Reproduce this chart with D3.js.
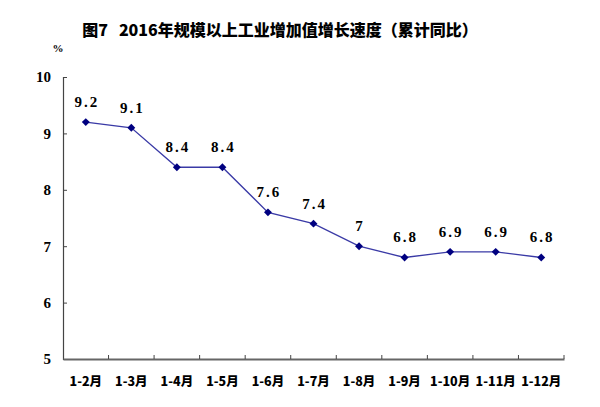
<!DOCTYPE html>
<html>
<head>
<meta charset="utf-8">
<script src="https://cdn.jsdelivr.net/npm/d3@7/dist/d3.min.js"></script>
<style>
  body { margin: 0; background: #fff; }
  text { font-family: "Liberation Serif", "Noto Sans CJK SC", serif; font-weight: bold; fill: #000; }
</style>
</head>
<body>
<svg class="chart" width="600" height="407"></svg>
<script>
// 数据
const months = ['1-2月', '1-3月', '1-4月', '1-5月', '1-6月', '1-7月', '1-8月', '1-9月', '1-10月', '1-11月', '1-12月']
const growth = [9.2, 9.1, 8.4, 8.4, 7.6, 7.4, 7, 6.8, 6.9, 6.9, 6.8]
const yTicks = [5, 6, 7, 8, 9, 10]
const title = '图7\u00a0\u00a0 2016年规模以上工业增加值增长速度（累计同比）'

let svg = d3.select('.chart')
let marge = { top: 77, bottom: 48, left: 63, right: 36 }
let width = +svg.attr('width')
let height = +svg.attr('height')

// 标题
svg.append('text')
  .attr('x', 280)
  .attr('y', 36)
  .attr('text-anchor', 'middle')
  .style('font-family', '"Noto Sans CJK SC", serif')
  .style('font-size', '16px')
  .style('font-weight', '900')
  .text(title)

let xScale = d3.scaleBand()
  .domain(months)
  .range([marge.left, width - marge.right])

let yScale = d3.scaleLinear()
  .domain([5, 10])
  .range([height - marge.bottom, marge.top])

// y轴
let yAxis = d3.axisLeft(yScale).tickValues(yTicks).tickFormat(d3.format('d')).tickSize(-4).tickPadding(12)
let gy = svg.append('g')
  .attr('transform', `translate(${marge.left},0)`)
  .call(yAxis)
gy.select('.domain').attr('stroke', '#444').attr('stroke-width', 1.2)
gy.selectAll('.tick line').attr('stroke', '#444')
gy.selectAll('.tick text').style('font-size', '15px').style('font-family', '"Liberation Serif", serif')

// x轴, 刻度在分段边界
let xAxis = d3.axisBottom(xScale).tickSize(0).tickPadding(18)
let gx = svg.append('g')
  .attr('transform', `translate(0,${height - marge.bottom})`)
  .call(xAxis)
gx.select('.domain').attr('stroke', '#666').attr('stroke-width', 2)
gx.selectAll('.tick text').style('font-size', '12.5px').style('font-family', '"Noto Sans CJK SC", serif').style('font-weight', '900')
gx.selectAll('.bound')
  .data(months.slice(1).concat(['end']))
  .enter()
  .append('line')
  .attr('class', 'bound')
  .attr('x1', (d, i) => xScale(months[0]) + (i + 1) * xScale.step())
  .attr('x2', (d, i) => xScale(months[0]) + (i + 1) * xScale.step())
  .attr('y1', 0)
  .attr('y2', -4)
  .attr('stroke', '#444')

// %
svg.append('text')
  .attr('x', 58)
  .attr('y', 52)
  .attr('text-anchor', 'middle')
  .style('font-size', '11px')
  .text('%')

let cx = d => xScale(d) + xScale.bandwidth() / 2

// 折线
let line = d3.line()
  .x((d, i) => cx(months[i]))
  .y(d => yScale(d))

svg.append('path')
  .datum(growth)
  .attr('d', line)
  .attr('fill', 'none')
  .attr('stroke', '#3a3aa6')
  .attr('stroke-width', 1.3)

// 菱形标记
svg.selectAll('.dot')
  .data(growth)
  .enter()
  .append('path')
  .attr('class', 'dot')
  .attr('d', d3.symbol().type(d3.symbolDiamond2).size(40))
  .attr('transform', (d, i) => `translate(${cx(months[i])},${yScale(d)})`)
  .attr('fill', '#000080')

// 数据标签
svg.selectAll('.label')
  .data(growth)
  .enter()
  .append('text')
  .attr('class', 'label')
  .attr('x', (d, i) => cx(months[i]) + 1)
  .attr('y', d => yScale(d) - 15)
  .attr('text-anchor', 'middle')
  .style('font-size', '15px')
  .style('letter-spacing', '2px')
  .text(d => d)
</script>
</body>
</html>
